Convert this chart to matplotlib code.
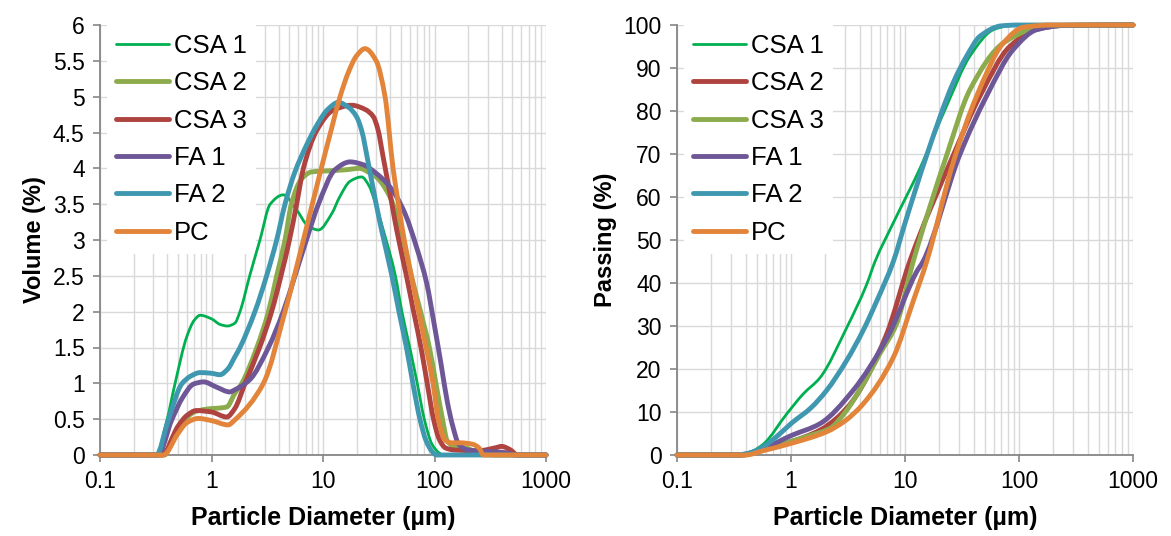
import numpy as np
import matplotlib
matplotlib.use('Agg')
import matplotlib.pyplot as plt
from matplotlib.path import Path
from matplotlib.patches import PathPatch
from matplotlib.lines import Line2D
from matplotlib.ticker import FixedLocator, NullFormatter

plt.rcParams['font.family'] = ['Liberation Sans', 'DejaVu Sans']

## particle size distribution (volume %)
vol_csa1_d = [0.1, 0.32, 0.4, 0.47, 0.6, 0.7, 0.79, 1.0, 1.2, 1.39, 1.62, 1.8, 2.2, 2.72, 3.36, 4.4, 5.8, 7.3, 9.1, 12, 14.1, 17.5, 22.2, 26, 28.3, 34.7, 44.6, 51, 60, 70, 81, 95, 110, 120, 1000]
vol_csa1 = [0, 0, 0.5, 0.99, 1.65, 1.88, 1.95, 1.9, 1.82, 1.8, 1.84, 2.0, 2.5, 3.0, 3.5, 3.63, 3.42, 3.2, 3.14, 3.37, 3.6, 3.82, 3.88, 3.75, 3.6, 3.14, 2.5, 2.0, 1.5, 1.0, 0.5, 0.15, 0.03, 0, 0]

vol_csa2_d = [0.1, 0.38, 0.45, 0.55, 0.7, 0.9, 1.37, 1.62, 1.87, 2.55, 3.24, 3.84, 4.56, 5.2, 6.4, 7.9, 12.8, 16, 21.3, 26, 30, 39.9, 50, 62, 75, 90, 103, 118, 130, 150, 190, 230, 300, 350, 1000]
vol_csa2 = [0, 0, 0.25, 0.45, 0.6, 0.64, 0.67, 0.86, 1.0, 1.5, 2.0, 2.5, 3.0, 3.5, 3.85, 3.95, 3.97, 3.98, 4.0, 3.94, 3.88, 3.6, 3.14, 2.5, 2.0, 1.5, 1.0, 0.5, 0.2, 0.12, 0.1, 0.05, 0.02, 0, 0]

vol_csa3_d = [0.1, 0.36, 0.5, 0.6, 0.73, 1.0, 1.37, 1.62, 2.0, 2.7, 3.46, 4.2, 5.0, 5.8, 6.67, 8.8, 12.3, 18.1, 24, 28.3, 31, 34.7, 41.5, 45.8, 56, 65, 75.6, 86, 98, 111, 125, 150, 250, 350, 400, 470, 560, 1000]
vol_csa3 = [0, 0, 0.4, 0.55, 0.62, 0.6, 0.53, 0.65, 1.0, 1.5, 2.0, 2.5, 3.0, 3.5, 4.0, 4.53, 4.81, 4.88, 4.82, 4.72, 4.55, 4.15, 3.5, 3.14, 2.5, 2.0, 1.5, 1.0, 0.5, 0.21, 0.1, 0.07, 0.06, 0.1, 0.12, 0.08, 0, 0]

vol_fa1_d = [0.1, 0.33, 0.44, 0.55, 0.69, 0.85, 1.1, 1.46, 1.62, 2.2, 3.24, 4.4, 5.6, 7.1, 9.1, 12.8, 17.5, 23, 30, 38, 45.8, 55, 69, 85, 100, 115, 130, 146, 165, 200, 300, 450, 520, 1000]
vol_fa1 = [0, 0, 0.49, 0.8, 0.99, 1.02, 0.95, 0.88, 0.91, 1.05, 1.5, 2.0, 2.5, 3.0, 3.5, 3.98, 4.09, 4.05, 3.93, 3.78, 3.6, 3.35, 2.9, 2.4, 1.8, 1.25, 0.75, 0.4, 0.15, 0.07, 0.05, 0.03, 0, 0]

vol_fa2_d = [0.1, 0.32, 0.41, 0.54, 0.65, 0.79, 1.0, 1.19, 1.4, 1.62, 1.8, 2.45, 3.12, 3.84, 4.56, 5.6, 7.0, 8.8, 11, 13.7, 17, 20, 22.2, 25.5, 30, 33.5, 41.5, 48, 56, 64, 74, 84, 95, 104, 1000]
vol_fa2 = [0, 0, 0.49, 0.99, 1.1, 1.15, 1.14, 1.12, 1.2, 1.37, 1.5, 2.0, 2.5, 3.0, 3.5, 3.95, 4.3, 4.6, 4.82, 4.92, 4.85, 4.72, 4.53, 4.07, 3.5, 3.14, 2.5, 2.0, 1.5, 1.0, 0.5, 0.2, 0.05, 0, 0]

vol_pc_d = [0.1, 0.37, 0.5, 0.6, 0.76, 1.0, 1.41, 1.62, 2.92, 4.56, 6.67, 9.4, 12, 14.1, 17, 20, 23.8, 30, 36, 42.5, 47.5, 53.5, 62, 72, 84, 97, 108, 124, 140, 170, 220, 250, 275, 1000]
vol_pc = [0, 0, 0.3, 0.45, 0.51, 0.48, 0.42, 0.49, 1.0, 2.0, 3.0, 3.93, 4.57, 4.98, 5.35, 5.57, 5.67, 5.5, 5.0, 4.0, 3.5, 3.0, 2.5, 2.0, 1.5, 1.0, 0.5, 0.21, 0.17, 0.17, 0.15, 0.1, 0, 0]

## cumulative passing (%)
pass_csa1_d = [0.1, 0.35, 0.45, 0.57, 0.92, 1.28, 1.8, 3.08, 4.6, 5.46, 8.0, 13.5, 23.2, 37.2, 59.6, 80, 120, 1000]
pass_csa1 = [0, 0, 0.8, 2.5, 9.6, 14.2, 18, 29.6, 39.6, 45, 54.3, 66.6, 81.2, 92.8, 98.9, 99.8, 100, 100]

pass_csa2_d = [0.1, 0.38, 0.57, 1.0, 1.8, 2.5, 3.5, 6.9, 11, 26.5, 45.5, 83, 143, 250, 1000]
pass_csa2 = [0, 0, 1.4, 3.1, 5.8, 8.5, 12.7, 28.1, 45, 69.7, 83.5, 95, 99, 99.9, 100]

pass_csa3_d = [0.1, 0.38, 0.57, 0.98, 1.5, 2.2, 3.0, 4.3, 6, 8.4, 11.8, 23.2, 37.2, 72.8, 143, 250, 1000]
pass_csa3 = [0, 0, 1.4, 3.1, 4.6, 6.2, 10, 16.5, 23.5, 30.4, 45, 69.7, 85, 95.8, 99.3, 99.9, 100]

pass_fa1_d = [0.1, 0.35, 0.57, 1.0, 1.8, 3.5, 7.2, 12.7, 14.4, 30.1, 52, 89, 143, 250, 1000]
pass_fa1 = [0, 0, 1.5, 4.5, 7.3, 15, 28, 42.7, 45, 69.7, 83.5, 94.3, 98.9, 99.9, 100]

pass_fa2_d = [0.1, 0.33, 0.45, 0.57, 0.75, 1.0, 1.5, 2.05, 3.08, 4.3, 5.65, 7.9, 10.1, 15.5, 26.5, 34.8, 45.5, 70, 100, 1000]
pass_fa2 = [0, 0, 0.6, 1.9, 4.3, 7.3, 11, 15, 22, 29, 35.8, 45, 54.3, 69.7, 86.6, 92.8, 97.4, 99.8, 100, 100]

pass_pc_d = [0.1, 0.4, 0.57, 1.0, 2.05, 3.0, 4.3, 7.9, 11.8, 15.5, 26.5, 42.6, 72.8, 110, 200, 1000]
pass_pc = [0, 0, 1, 2.7, 5.4, 8, 11.9, 22.7, 35.8, 45, 68.1, 83.5, 95.8, 99.5, 100, 100]

green = '#00B050'
olive = '#8CAB4D'
red = '#AE4340'
purple = '#6E5796'
teal = '#3F97B0'
orange = '#E2843A'


def smooth_line(ax, xs, ys, color, lw, label):
    ##draws the read points as one smoothed path (like Excel's smoothed line),
    ##bezier control points come from monotone slopes in log-x space
    lx = np.log10(np.asarray(xs, float))
    y = np.asarray(ys, float)
    h = np.diff(lx)
    d = np.diff(y) / h
    n = len(lx)
    m = np.zeros(n)
    m[0], m[-1] = d[0], d[-1]
    for i in range(1, n - 1):
        if d[i - 1] * d[i] > 0:
            w1 = 2 * h[i] + h[i - 1]
            w2 = h[i] + 2 * h[i - 1]
            m[i] = (w1 + w2) / (w1 / d[i - 1] + w2 / d[i])
    verts = [(xs[0], ys[0])]
    codes = [Path.MOVETO]
    for i in range(n - 1):
        c1 = (10 ** (lx[i] + h[i] / 3), y[i] + m[i] * h[i] / 3)
        c2 = (10 ** (lx[i + 1] - h[i] / 3), y[i + 1] - m[i + 1] * h[i] / 3)
        verts += [c1, c2, (xs[i + 1], ys[i + 1])]
        codes += [Path.CURVE4] * 3
    ax.add_patch(PathPatch(Path(verts, codes), fill=False, edgecolor=color, lw=lw,
                           capstyle='round', joinstyle='round', clip_on=False, zorder=3))
    return Line2D([], [], color=color, lw=lw, solid_capstyle='round', label=label)


fig = plt.figure(figsize=(11.71, 5.36), dpi=100)
ax1 = fig.add_axes([100/1171, 81/536, 446/1171, 430/536])
ax2 = fig.add_axes([677/1171, 81/536, 456/1171, 430/536])

thick = 3.5
thin = 2.0

##left chart: volume distribution
h1 = [smooth_line(ax1, vol_csa1_d, vol_csa1, green, thin, 'CSA 1'),
      smooth_line(ax1, vol_csa2_d, vol_csa2, olive, thick, 'CSA 2'),
      smooth_line(ax1, vol_csa3_d, vol_csa3, red, thick, 'CSA 3'),
      smooth_line(ax1, vol_fa1_d, vol_fa1, purple, thick, 'FA 1'),
      smooth_line(ax1, vol_fa2_d, vol_fa2, teal, thick, 'FA 2'),
      smooth_line(ax1, vol_pc_d, vol_pc, orange, thick, 'PC')]

##right chart: cumulative passing
h2 = [smooth_line(ax2, pass_csa1_d, pass_csa1, green, thin, 'CSA 1'),
      smooth_line(ax2, pass_csa2_d, pass_csa2, red, thick, 'CSA 2'),
      smooth_line(ax2, pass_csa3_d, pass_csa3, olive, thick, 'CSA 3'),
      smooth_line(ax2, pass_fa1_d, pass_fa1, purple, thick, 'FA 1'),
      smooth_line(ax2, pass_fa2_d, pass_fa2, teal, thick, 'FA 2'),
      smooth_line(ax2, pass_pc_d, pass_pc, orange, thick, 'PC')]

x_ticks = [0.1, 1, 10, 100, 1000]
x_labels = ['0.1', '1', '10', '100', '1000']
vol_ticks = np.arange(0, 6.01, 0.5)
vol_labels = ['0', '0.5', '1', '1.5', '2', '2.5', '3', '3.5', '4', '4.5', '5', '5.5', '6']
pass_ticks = np.arange(0, 101, 10)

for ax, ylab, hands, shift in [(ax1, 'Volume (%)', h1, 7/446), (ax2, 'Passing (%)', h2, 7/456)]:
    ax.set_xscale('log')
    ax.set_xlim(0.1, 1000)
    ax.set_xticks(x_ticks)
    ax.set_xticklabels(x_labels)
    ax.xaxis.set_minor_locator(FixedLocator([m * 10.0**e for e in range(-1, 3) for m in range(2, 10)]))
    ax.xaxis.set_minor_formatter(NullFormatter())
    ax.grid(True, which='both', axis='x', color='#D9D9D9', lw=1.0)
    ax.grid(True, which='major', axis='y', color='#D9D9D9', lw=1.0)
    ax.set_axisbelow(True)
    for s in ['top', 'right']:
        ax.spines[s].set_visible(False)
    for s in ['left', 'bottom']:
        ax.spines[s].set_color('#868686')
        ax.spines[s].set_linewidth(1.3)
    ax.tick_params(axis='both', which='major', direction='out', length=5, width=1.2,
                   color='#868686', labelsize=16.5, labelcolor='black', pad=6)
    ax.tick_params(axis='x', which='minor', length=0)
    ax.set_xlabel('Particle Diameter (\u00b5m)', fontsize=18, fontweight='bold', labelpad=9)
    ax.set_ylabel(ylab, fontsize=17, fontweight='bold', labelpad=5)
    leg = ax.legend(handles=hands, loc='upper left', bbox_to_anchor=(shift, 1), borderaxespad=0,
                    fontsize=18.5, frameon=True, fancybox=False, handlelength=2.05,
                    handletextpad=0.2, labelspacing=0.52, borderpad=0.35)
    leg.get_frame().set_facecolor('white')
    leg.get_frame().set_edgecolor('none')
    leg.get_frame().set_alpha(1)
    leg.set_zorder(2)

ax1.set_ylim(0, 6)
ax1.set_yticks(vol_ticks)
ax1.set_yticklabels(vol_labels)
ax2.set_ylim(0, 100)
ax2.set_yticks(pass_ticks)

fig.savefig('out.png', dpi=100)
